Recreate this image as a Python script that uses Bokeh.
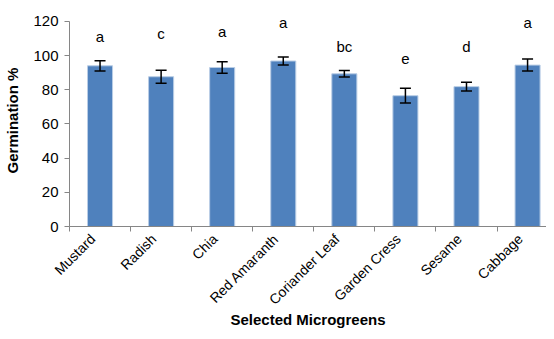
from bokeh.plotting import figure
from bokeh.models import Range1d, FixedTicker, ColumnDataSource, Whisker
from bokeh.core.properties import value
from bokeh.embed import file_html
from bokeh.resources import INLINE
import math

categories = ["Mustard", "Radish", "Chia", "Red Amaranth", "Coriander Leaf",
              "Garden Cress", "Sesame", "Cabbage"]
germination = [94.0, 87.6, 93.0, 96.8, 89.3, 76.5, 81.8, 94.4]
errors = [3.0, 3.8, 3.3, 2.3, 1.9, 4.3, 2.5, 3.5]
letters = ["a", "c", "a", "a", "bc", "e", "d", "a"]
letter_y = [108.6, 110.5, 111.7, 116.8, 102.8, 95.9, 103.2, 116.8]
y_ticks = [0, 20, 40, 60, 80, 100, 120]

x = [i + 0.5 for i in range(len(categories))]
src = ColumnDataSource(dict(
    x=x, top=germination,
    upper=[g + e for g, e in zip(germination, errors)],
    lower=[g - e for g, e in zip(germination, errors)],
    lab=letters, ly=letter_y,
))

FONT = "Liberation Sans"
AXIS_COLOR = "#868686"
LABEL_SHIFT = 0.12  # small leftward nudge of rotated category labels

# y range extends a little above 120 so the letters above tall bars are not clipped;
# the axis itself is bounded at 0..120
p = figure(width=546, height=331, output_backend="svg", toolbar_location=None,
           x_range=Range1d(0, 7.81), y_range=Range1d(0, 124),
           min_border_left=69, min_border_right=0, min_border_top=14,
           min_border_bottom=0)
p.outline_line_color = None
p.grid.grid_line_color = None
p.background_fill_color = "white"
p.border_fill_color = "white"

p.vbar(x="x", top="top", width=0.41, bottom=0, source=src,
       fill_color="#4F81BD", line_color="#B9CDE5", line_width=1)

w = Whisker(base="x", upper="upper", lower="lower", source=src,
            line_color="black", line_width=1.5, level="overlay")
w.upper_head.size = 11
w.lower_head.size = 11
w.upper_head.line_width = 1.5
w.lower_head.line_width = 1.5
w.upper_head.line_color = "black"
w.lower_head.line_color = "black"
p.add_layout(w)

p.text(x="x", y="ly", text="lab", source=src, text_align="center",
       text_baseline="alphabetic", y_offset=-4, text_font=value(FONT),
       text_font_size="15px", text_color="black")

# y axis
p.yaxis.ticker = FixedTicker(ticks=y_ticks)
p.yaxis.bounds = (0, 120)
p.yaxis.axis_line_color = AXIS_COLOR
p.yaxis.major_tick_line_color = AXIS_COLOR
p.yaxis.major_tick_out = 5
p.yaxis.major_tick_in = 0
p.yaxis.minor_tick_line_color = None
p.yaxis.major_label_text_font = FONT
p.yaxis.major_label_text_font_size = "15px"
p.yaxis.major_label_text_color = "black"
p.yaxis.major_label_standoff = 6
p.yaxis.axis_label = "Germination %"
p.yaxis.axis_label_text_font = FONT
p.yaxis.axis_label_text_font_size = "15px"
p.yaxis.axis_label_text_font_style = "bold"
p.yaxis.axis_label_text_color = "black"
p.yaxis.axis_label_standoff = 9

# x axis: labels near centres, ticks at boundaries
label_pos = [xi - LABEL_SHIFT for xi in x]
p.xaxis.ticker = FixedTicker(ticks=label_pos, minor_ticks=list(range(len(categories) + 1)))
p.xaxis.major_label_overrides = {xi: c for xi, c in zip(label_pos, categories)}
p.xaxis.major_label_orientation = math.pi / 4
p.xaxis.axis_line_color = AXIS_COLOR
p.xaxis.major_tick_line_color = None
p.xaxis.major_tick_out = 6
p.xaxis.minor_tick_line_color = AXIS_COLOR
p.xaxis.minor_tick_out = 5
p.xaxis.minor_tick_in = 0
p.xaxis.major_label_text_font = FONT
p.xaxis.major_label_text_font_size = "14px"
p.xaxis.major_label_text_color = "black"
p.xaxis.major_label_standoff = 4
p.xaxis.axis_label = "Selected Microgreens"
p.xaxis.axis_label_text_font = FONT
p.xaxis.axis_label_text_font_size = "15px"
p.xaxis.axis_label_text_font_style = "bold"
p.xaxis.axis_label_text_color = "black"
p.xaxis.axis_label_standoff = -5

open("out.html", "w").write(file_html(p, INLINE))
